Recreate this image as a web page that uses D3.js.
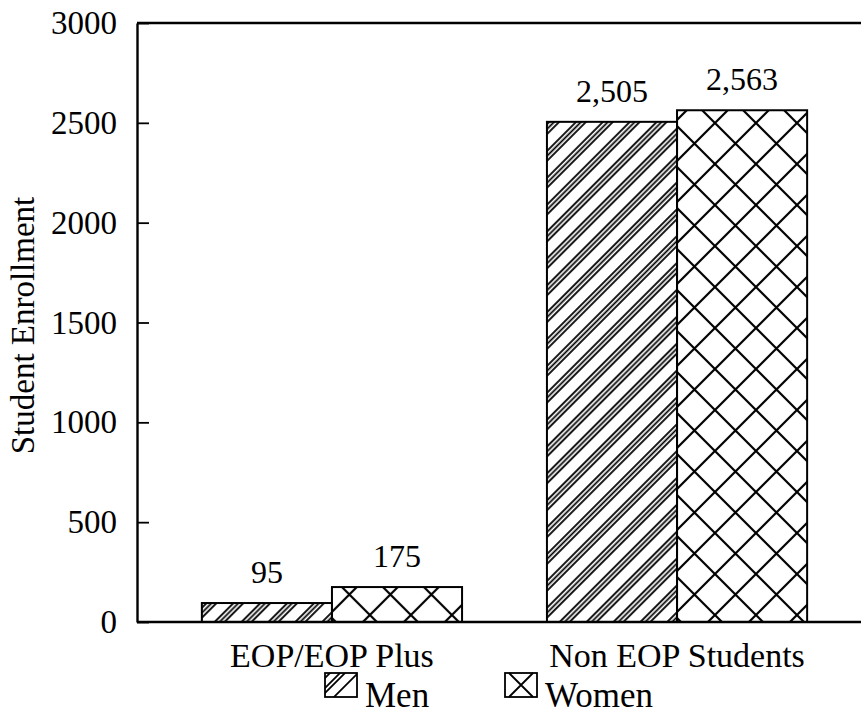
<!DOCTYPE html>
<html>
<head>
<meta charset="utf-8">
<script src="https://cdn.jsdelivr.net/npm/d3@7"></script>
<style>
  html, body { margin: 0; padding: 0; background: #fff; }
</style>
</head>
<body>
<div class="chart-container"></div>
<script>
//! DATA
const categories = ['EOP/EOP Plus', 'Non EOP Students'];
const series = ['Men', 'Women'];
const menValues = [95, 2505];
const womenValues = [175, 2563];
const yTicks = [0, 500, 1000, 1500, 2000, 2500, 3000];
const yTitle = 'Student Enrollment';

//! CONSTS
const width = 861;
const height = 717;
const plotLeft = 137;
const plotTop = 23;
const plotBottom = 622;
const serif = "'Liberation Serif', 'Times New Roman', Times, 'DejaVu Serif', serif";

const svg = d3.select('.chart-container')
  .append('svg')
  .attr('width', width)
  .attr('height', height)
  .style('font-family', serif);

//! PATTERNS
const defs = svg.append('defs');

// men: groups of diagonal lines
const menPat = defs.append('pattern')
  .attr('id', 'hatch-men')
  .attr('patternUnits', 'userSpaceOnUse')
  .attr('width', 19)
  .attr('height', 19)
  .attr('patternTransform', 'translate(202,0) rotate(45)');
[2, 5.5, 9].forEach(x => {
  menPat.append('line')
    .attr('x1', x).attr('y1', -1)
    .attr('x2', x).attr('y2', 20)
    .attr('stroke', '#000')
    .attr('stroke-width', 1.8);
});

// women: cross hatch
const womenPat = defs.append('pattern')
  .attr('id', 'hatch-women')
  .attr('patternUnits', 'userSpaceOnUse')
  .attr('width', 41)
  .attr('height', 41)
  .attr('patternTransform', 'translate(332,0)');
womenPat.append('path')
  .attr('d', 'M-1,-1L42,42M42,-1L-1,42')
  .attr('stroke', '#000')
  .attr('stroke-width', 2.2)
  .attr('fill', 'none');

defs.append('clipPath')
  .attr('id', 'swatch-clip')
  .append('rect')
  .attr('width', 32)
  .attr('height', 24);

const fills = { Men: 'url(#hatch-men)', Women: 'url(#hatch-women)' };

//! SCALES
const x0 = d3.scaleBand()
  .domain(categories)
  .range([plotLeft, 872])
  .paddingInner(0.246)
  .paddingOuter(0.188);

const x1 = d3.scaleBand()
  .domain(series)
  .range([0, x0.bandwidth()]);

const y = d3.scaleLinear()
  .domain([0, 3000])
  .range([plotBottom, plotTop]);

const rows = categories.map((c, i) => ({
  category: c,
  values: [
    { key: 'Men', value: menValues[i] },
    { key: 'Women', value: womenValues[i] }
  ]
}));

//! BARS
const groups = svg.selectAll('g.group')
  .data(rows)
  .enter()
  .append('g')
  .attr('class', 'group')
  .attr('transform', d => `translate(${x0(d.category)},0)`);

groups.selectAll('rect')
  .data(d => d.values)
  .enter()
  .append('rect')
  .attr('x', d => x1(d.key))
  .attr('y', d => y(d.value))
  .attr('width', x1.bandwidth())
  .attr('height', d => y(0) - y(d.value))
  .attr('fill', d => fills[d.key])
  .attr('stroke', '#000')
  .attr('stroke-width', 2);

groups.selectAll('text.value')
  .data(d => d.values)
  .enter()
  .append('text')
  .attr('class', 'value')
  .attr('x', d => x1(d.key) + x1.bandwidth() / 2)
  .attr('y', d => y(d.value) - 20)
  .attr('text-anchor', 'middle')
  .style('font-family', serif)
  .style('font-size', '32px')
  .text(d => d3.format(',')(d.value));

//! AXES
const yAxis = d3.axisLeft(y)
  .tickValues(yTicks)
  .tickFormat(d3.format('d'))
  .tickSizeInner(-12)
  .tickSizeOuter(0)
  .tickPadding(20);

const gy = svg.append('g')
  .attr('transform', `translate(${plotLeft},0)`)
  .call(yAxis);
gy.select('.domain').attr('stroke-width', 2.4);
gy.selectAll('.tick line').attr('stroke-width', 1.8);
gy.selectAll('.tick text')
  .style('font-family', serif)
  .style('font-size', '33px');

// frame line on top, no right side
svg.append('line')
  .attr('x1', plotLeft).attr('x2', width)
  .attr('y1', y(3000)).attr('y2', y(3000))
  .attr('stroke', '#000').attr('stroke-width', 2.6);

const xAxis = d3.axisBottom(x0).tickSize(0).tickPadding(45);
const gx = svg.append('g')
  .attr('transform', `translate(0,${plotBottom})`)
  .call(xAxis);
gx.select('.domain').remove();
gx.selectAll('.tick text')
  .style('font-family', serif)
  .style('font-size', '34px')
  .attr('dy', 0);
svg.append('line')
  .attr('x1', plotLeft).attr('x2', width)
  .attr('y1', plotBottom).attr('y2', plotBottom)
  .attr('stroke', '#000').attr('stroke-width', 2.4);

// y title
svg.append('text')
  .attr('transform', `translate(34,${(plotTop + plotBottom) / 2 + 3}) rotate(-90)`)
  .attr('text-anchor', 'middle')
  .style('font-family', serif)
  .style('font-size', '33px')
  .text(yTitle);

//! LEGEND
const legendX = [325, 505];
const legend = svg.selectAll('g.legend')
  .data(series)
  .enter()
  .append('g')
  .attr('class', 'legend')
  .attr('transform', (d, i) => `translate(${legendX[i]},673)`);

legend.append('rect')
  .attr('width', 32)
  .attr('height', 24)
  .attr('fill', '#fff');

legend.filter(d => d === 'Men')
  .append('g')
  .attr('clip-path', 'url(#swatch-clip)')
  .selectAll('line')
  .data([6, 16, 21, 34])
  .enter()
  .append('line')
  .attr('x1', d => d - 26)
  .attr('y1', 25)
  .attr('x2', d => d)
  .attr('y2', -1)
  .attr('stroke', '#000')
  .attr('stroke-width', 1.8);

legend.filter(d => d === 'Women')
  .append('path')
  .attr('d', 'M4,0L28,24M28,0L4,24')
  .attr('stroke', '#000')
  .attr('stroke-width', 1.8)
  .attr('fill', 'none');

legend.append('rect')
  .attr('width', 32)
  .attr('height', 24)
  .attr('fill', 'none')
  .attr('stroke', '#000')
  .attr('stroke-width', 1.8);

legend.append('text')
  .attr('x', 40)
  .attr('y', 34)
  .style('font-family', serif)
  .style('font-size', '35px')
  .text(d => d);
</script>
</body>
</html>
